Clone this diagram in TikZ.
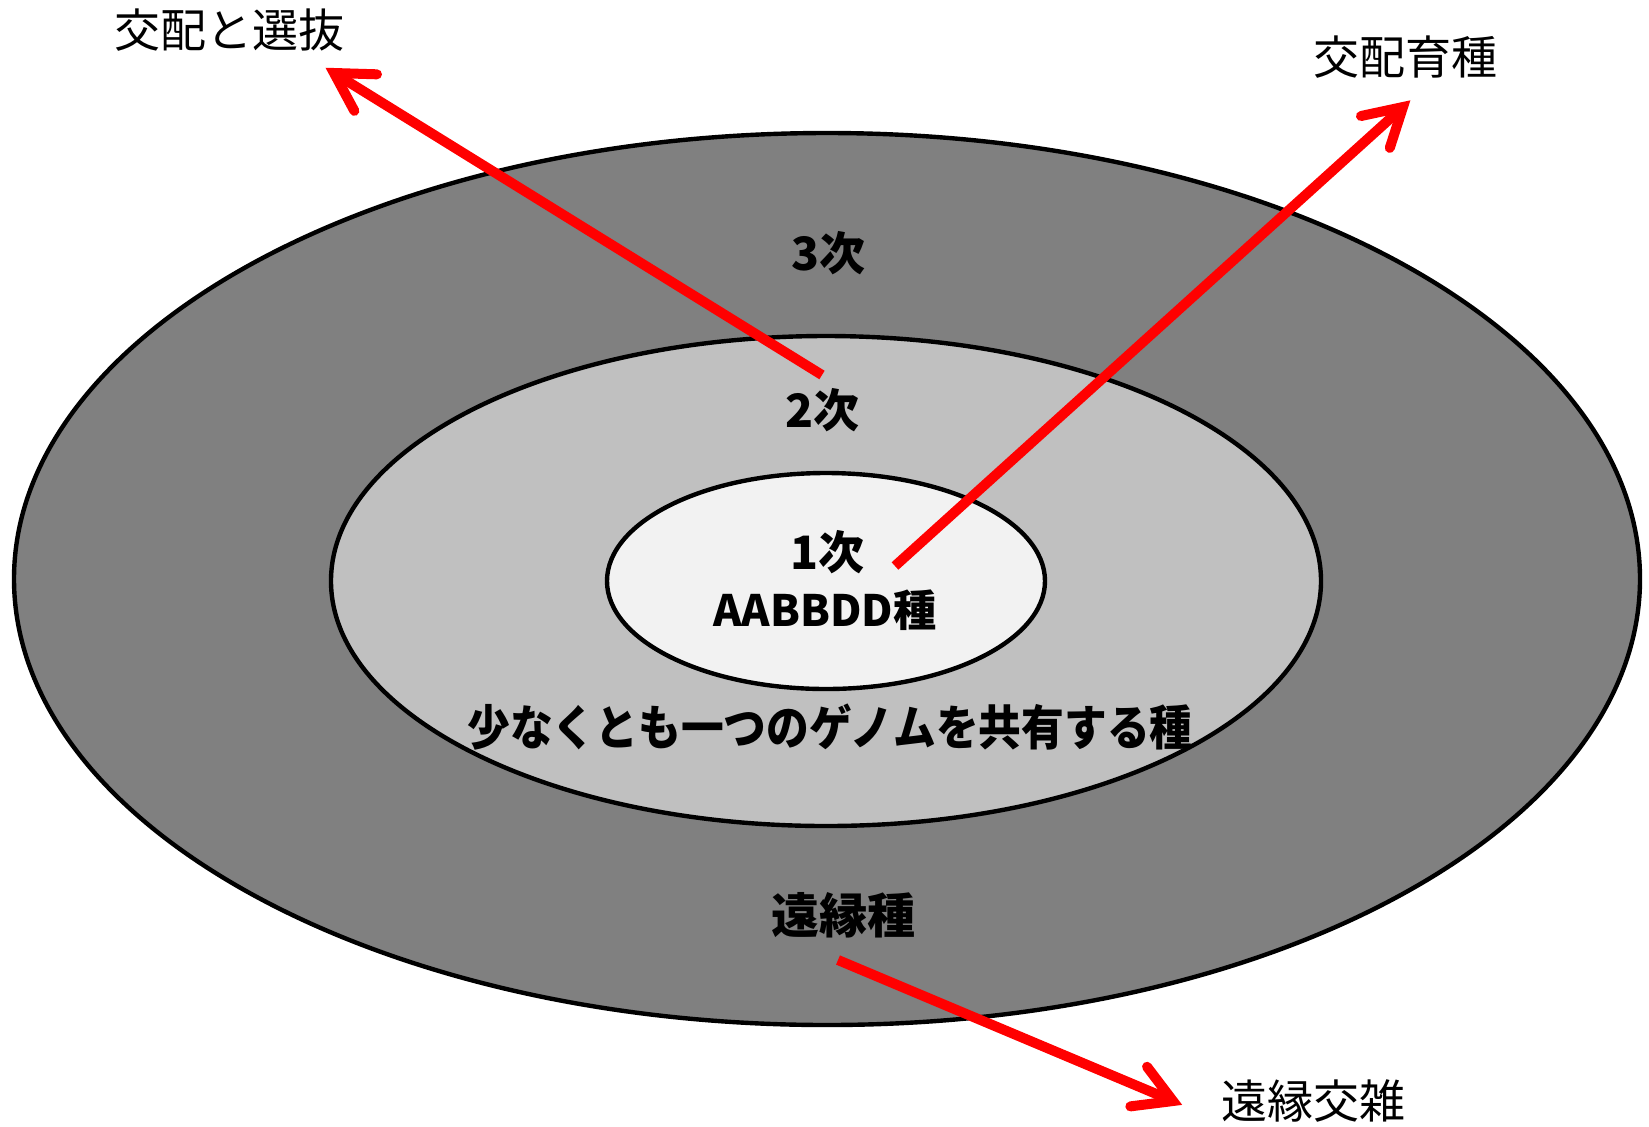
\documentclass[tikz,border=0pt]{standalone}
\usepackage{fontspec}
\newfontfamily\jp{Noto Sans CJK JP}
\newfontfamily\jpc[FakeStretch=0.89]{Noto Sans CJK JP}
\usetikzlibrary{calc}
\begin{document}
\begin{tikzpicture}[x=0.5pt,y=-0.5pt,
  ring/.style={draw=black,line width=2.2pt},
  lab/.style={font=\jp\fontsize{23pt}{23pt}\selectfont, inner sep=0pt},
  blab/.style={font=\jp\bfseries\fontsize{23pt}{23pt}\selectfont, inner sep=0pt},
  shaft/.style={draw=red, line width=5pt},
  arrhead/.style={draw=red, line width=5pt, line cap=round, line join=miter},
]
\useasboundingbox (0,0) rectangle (1649,1126);
\definecolor{outerg}{RGB}{128,128,128}
\definecolor{midg}{RGB}{192,192,192}
\definecolor{innerg}{RGB}{242,242,242}
% rings
\draw[ring,fill=outerg] (827,579) ellipse [x radius=813, y radius=446];
\draw[ring,fill=midg] (826,581) ellipse [x radius=495, y radius=245];
\draw[ring,fill=innerg] (826,581) ellipse [x radius=219, y radius=108];
% labels
\node[lab] (sel) at (229,30) {交配と選抜};
\node[lab] (breed) at (1405,57) {交配育種};
\node[lab] (wide) at (1313,1101) {遠縁交雑};
\node[blab] (third) at (828,253) {3次};
\node[blab] (second) at (822,410) {2次};
\node[blab] (first) at (827,552) {1次};
\node[blab,font=\jp\bfseries\fontsize{21.6pt}{21.6pt}\selectfont] (aabbdd) at (825,610) {AABBDD種};
\node[blab,font=\jpc\bfseries\fontsize{24pt}{24pt}\selectfont] (share) at (830,727) {少なくとも一つのゲノムを共有する種};
\node[blab,font=\jp\bfseries\fontsize{24pt}{24pt}\selectfont] (far) at (843,915) {遠縁種};
% arrows
\coordinate (s1) at (822,375); \coordinate (v1) at (334,73);
\coordinate (s2) at (895,566); \coordinate (v2) at (1403,107);
\coordinate (s3) at (838,960); \coordinate (v3) at (1173,1101);
\foreach \s/\v in {s1/v1,s2/v2,s3/v3}{
  \draw[shaft] (\s) -- (\v);
  \draw[arrhead] ($(\v)!21.5pt!30:(\s)$) -- (\v) -- ($(\v)!21.5pt!-30:(\s)$);
}
\end{tikzpicture}
\end{document}
